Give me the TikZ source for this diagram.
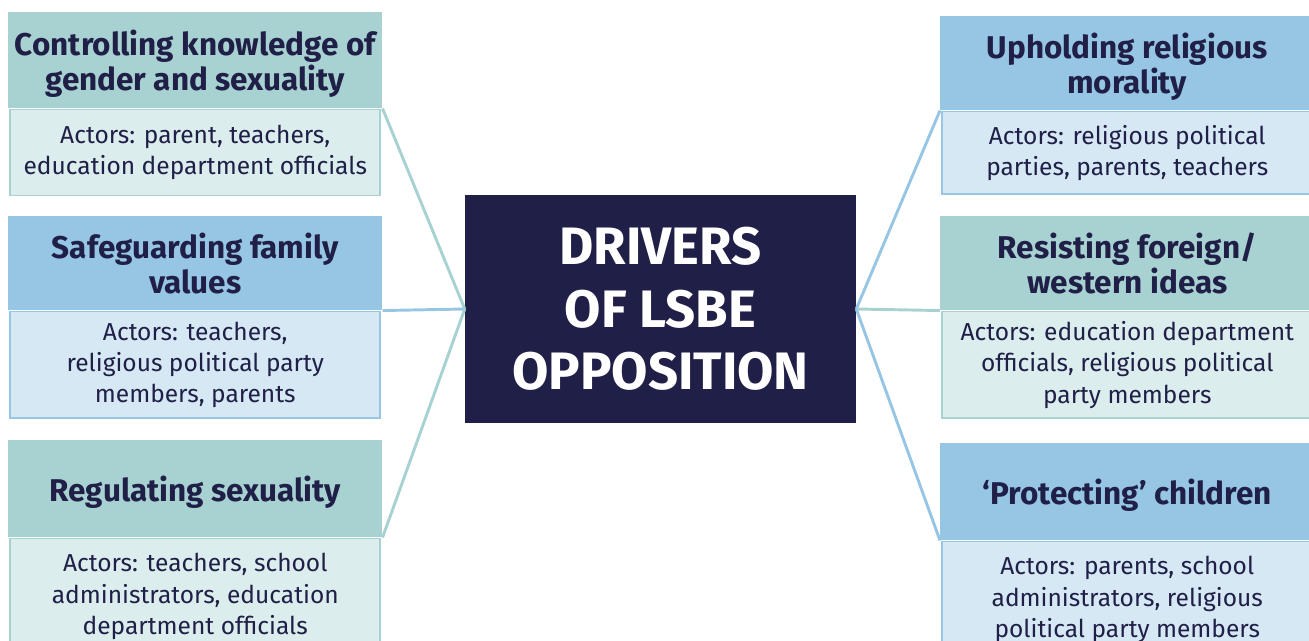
\documentclass[tikz,border=0pt]{standalone}
\usepackage{fontspec}
\setmainfont{Fira Sans}
\usepackage{tikz}
\usetikzlibrary{positioning}
\definecolor{Navy}{HTML}{201F47}
\definecolor{TealHead}{HTML}{A8D2D2}
\definecolor{TealBody}{HTML}{DBEDEC}
\definecolor{BlueHead}{HTML}{96C6E4}
\definecolor{BlueBody}{HTML}{D5E8F4}

\tikzset{
    hub/.style={fill=Navy, text=white, align=center, inner sep=0pt,
        minimum width=293.25pt, minimum height=171pt,
        font=\bfseries\fontsize{39.5}{47}\selectfont},
    drvhead/.style={fill=#1, text=Navy, align=center, anchor=north west,
        inner sep=0pt, minimum width=280.5pt, text depth=-2.5pt,
        font=\bfseries\fontsize{23.6}{26.5}\selectfont},
    drvbody/.style={draw=#1, line width=1.4pt, text=Navy, align=center,
        inner sep=0pt, minimum width=277.5pt,
        font=\fontsize{18.4}{23.5}\selectfont},
    link/.style={line width=2.2pt, #1}
}

\begin{document}
\begin{tikzpicture}[x=0.75pt,y=-0.75pt]
    \useasboundingbox (0,0) rectangle (1309,640);

    % centre box
    \node[hub] (hub) at (660.5,309) {DRIVERS\\OF LSBE\\OPPOSITION};

    % left column
    \node[drvhead=TealHead, minimum height=72pt] (ctrl) at (8,12)
        {Controlling knowledge of\\gender and sexuality};
    \node[drvbody=TealHead, fill=TealBody, minimum height=64.5pt, below=0pt of ctrl] (ctrlact)
        {Actors: parent, teachers,\\education department officials};

    \node[drvhead=BlueHead, minimum height=70.5pt] (family) at (8,216)
        {Safeguarding family\\values};
    \node[drvbody=BlueHead, fill=BlueBody, minimum height=80pt, below=0pt of family] (familyact)
        {Actors: teachers,\\religious political party\\members, parents};

    \node[drvhead=TealHead, minimum height=72.75pt] (regul) at (8,440)
        {Regulating sexuality};
    \node[drvbody=TealHead, fill=TealBody, minimum height=87pt, below=0pt of regul] (regulact)
        {Actors: teachers, school\\administrators, education\\department officials};

    % right column
    \node[drvhead=BlueHead, minimum height=70.5pt] (moral) at (940,16)
        {Upholding religious\\morality};
    \node[drvbody=BlueHead, fill=BlueBody, minimum height=62pt, below=0pt of moral] (moralact)
        {Actors: religious political\\parties, parents, teachers};

    \node[drvhead=TealHead, minimum height=70.5pt] (foreign) at (940,216)
        {Resisting foreign/\\western ideas};
    \node[drvbody=TealHead, fill=TealBody, minimum height=80pt, below=0pt of foreign] (foreignact)
        {Actors: education department\\officials, religious political\\party members};

    \node[drvhead=BlueHead, minimum height=72.75pt] (protect) at (940,443)
        {`Protecting' children};
    \node[drvbody=BlueHead, fill=BlueBody, minimum height=87pt, below=0pt of protect] (protectact)
        {Actors: parents, school\\administrators, religious\\political party members};

    % connectors
    \draw[link=TealHead] (ctrl.south east) -- (hub.west);
    \draw[link=BlueHead] (family.south east) -- (hub.west);
    \draw[link=TealHead] (regul.south east) -- (hub.west);
    \draw[link=BlueHead] (moral.south west) -- (hub.east);
    \draw[link=TealHead] (foreign.south west) -- (hub.east);
    \draw[link=BlueHead] (protect.south west) -- (hub.east);
\end{tikzpicture}
\end{document}
